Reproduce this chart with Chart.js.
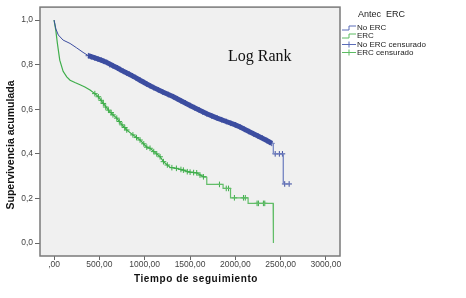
<!DOCTYPE html>
<html><head><meta charset="utf-8">
<script src="https://cdn.jsdelivr.net/npm/chart.js@4/dist/chart.umd.min.js"></script>
<style>html,body{margin:0;padding:0;background:#fff}#wrap{width:466px;height:298px;position:relative}</style>
</head><body><div id="wrap"><canvas id="c" width="466" height="298"></canvas></div>
<script>
// ---- data ----
const xTicks = [0, 500, 1000, 1500, 2000, 2500, 3000];
const yTicks = [0, 0.2, 0.4, 0.6, 0.8, 1.0];

// survival curve vertices (repeated times mark the visible vertical drops of the step function)
const noErcTime = [0, 20, 47, 100, 177, 250, 320, 379, 450, 520, 582, 650, 700, 765, 830, 900, 949, 1023, 1100, 1200, 1317, 1400, 1500, 1600, 1685, 1800, 1900, 2000, 2053, 2150, 2250, 2347, 2402, 2420, 2420, 2530, 2530, 2604];
const noErcSurv = [1.0, 0.96, 0.933, 0.91, 0.895, 0.875, 0.855, 0.84, 0.83, 0.82, 0.81, 0.795, 0.785, 0.77, 0.757, 0.742, 0.73, 0.713, 0.697, 0.677, 0.656, 0.638, 0.617, 0.597, 0.58, 0.56, 0.545, 0.53, 0.52, 0.50, 0.48, 0.46, 0.447, 0.447, 0.40, 0.40, 0.265, 0.265];

const ercTime = [0, 19, 37, 63, 100, 140, 177, 230, 287, 340, 397, 450, 489, 544, 600, 650, 692, 750, 802, 870, 949, 1023, 1059, 1133, 1170, 1207, 1250, 1280, 1350, 1427, 1501, 1574, 1648, 1685, 1685, 1865, 1865, 1947, 1947, 2141, 2141, 2417, 2417, 2422, 2422];
const ercSurv = [1.0, 0.955, 0.895, 0.82, 0.77, 0.745, 0.73, 0.72, 0.71, 0.70, 0.686, 0.67, 0.656, 0.626, 0.596, 0.575, 0.56, 0.53, 0.507, 0.485, 0.462, 0.43, 0.425, 0.40, 0.387, 0.365, 0.35, 0.34, 0.335, 0.327, 0.318, 0.315, 0.297, 0.297, 0.263, 0.263, 0.245, 0.245, 0.203, 0.203, 0.178, 0.178, 0.089, 0.089, 0.0];

const noErcCensTime = [379, 410, 450, 485, 520, 550, 582, 615, 650, 700, 730, 765, 800, 830, 865, 900, 949, 990, 1023, 1060, 1100, 1150, 1200, 1260, 1317, 1360, 1400, 1450, 1500, 1550, 1600, 1640, 1685, 1740, 1800, 1850, 1900, 1950, 2000, 2053, 2100, 2150, 2200, 2250, 2300, 2347, 2380, 2402, 2440, 2486, 2520, 2545, 2594];
const noErcCensSurv = [0.84, 0.835, 0.83, 0.825, 0.82, 0.815, 0.81, 0.80, 0.795, 0.785, 0.778, 0.77, 0.763, 0.757, 0.75, 0.742, 0.73, 0.721, 0.713, 0.705, 0.697, 0.687, 0.677, 0.666, 0.656, 0.647, 0.638, 0.628, 0.617, 0.607, 0.597, 0.588, 0.58, 0.57, 0.56, 0.553, 0.545, 0.537, 0.53, 0.52, 0.51, 0.50, 0.49, 0.48, 0.47, 0.46, 0.452, 0.447, 0.40, 0.40, 0.40, 0.265, 0.265];

const ercCensTime = [450, 489, 520, 544, 570, 600, 630, 650, 692, 720, 750, 780, 802, 870, 910, 949, 990, 1023, 1059, 1100, 1133, 1170, 1207, 1250, 1300, 1350, 1400, 1427, 1470, 1501, 1540, 1574, 1610, 1648, 1825, 1900, 1925, 1990, 2090, 2110, 2240, 2255, 2310, 2325];
const ercCensSurv = [0.67, 0.656, 0.64, 0.626, 0.61, 0.596, 0.585, 0.575, 0.56, 0.545, 0.53, 0.518, 0.507, 0.485, 0.473, 0.462, 0.445, 0.43, 0.425, 0.41, 0.40, 0.387, 0.365, 0.35, 0.338, 0.335, 0.33, 0.327, 0.32, 0.318, 0.316, 0.315, 0.305, 0.297, 0.263, 0.245, 0.245, 0.203, 0.203, 0.203, 0.178, 0.178, 0.178, 0.178];

const FONT = "'Liberation Sans', Arial, sans-serif";
const BLUE = '#3c4da0', BLUE_L = '#7d8bc6';
const GREEN = '#3fae4b', GREEN_L = '#62bd68';

const pts = (t, v) => t.map((x, i) => ({x: x, y: v[i]}));

const decor = {
  id: 'decor',
  beforeDraw(chart) {
    const {ctx, chartArea: a} = chart;
    ctx.save();
    ctx.fillStyle = '#f0f0f0';
    ctx.fillRect(a.left, a.top, a.right - a.left, a.bottom - a.top);
    ctx.restore();
  },
  afterDraw(chart) {
    const {ctx, chartArea: a} = chart;
    ctx.save();
    ctx.strokeStyle = '#7a7a7a';
    ctx.lineWidth = 1.5;
    ctx.strokeRect(a.left, a.top, a.right - a.left, a.bottom - a.top);
    // Log Rank
    ctx.fillStyle = '#111';
    ctx.font = "16px 'Liberation Serif', 'Times New Roman', serif";
    ctx.textBaseline = 'alphabetic';
    ctx.fillText('Log Rank', 228, 61);
    // axis titles
    ctx.font = 'bold 10.5px ' + FONT;
    ctx.fillStyle = '#111';
    ctx.textAlign = 'center';
    ctx.textBaseline = 'middle';
    ctx.save();
    ctx.translate(11, 145);
    ctx.rotate(-Math.PI / 2);
    ctx.fillText('Supervivencia acumulada', 0, 0);
    ctx.restore();
    ctx.font = 'bold 10px ' + FONT;
    if ('letterSpacing' in ctx) ctx.letterSpacing = '0.6px';
    ctx.fillText('Tiempo de seguimiento', 196, 279);
    if ('letterSpacing' in ctx) ctx.letterSpacing = '0px';
    // legend
    ctx.textAlign = 'left';
    ctx.font = '9px ' + FONT;
    ctx.fillStyle = '#222';
    ctx.fillText('Antec  ERC', 358, 15);
    ctx.font = '8px ' + FONT;
    const items = [
      {t: 'No ERC', c: '#5a6cb8', step: true, y: 28},
      {t: 'ERC', c: '#5cbc62', step: true, y: 36},
      {t: 'No ERC censurado', c: '#5a6cb8', step: false, y: 44.5},
      {t: 'ERC censurado', c: '#5cbc62', step: false, y: 52.5}
    ];
    items.forEach(it => {
      ctx.strokeStyle = it.c;
      ctx.lineWidth = 1;
      ctx.beginPath();
      if (it.step) {
        ctx.moveTo(342, it.y + 2); ctx.lineTo(349, it.y + 2);
        ctx.lineTo(349, it.y - 2); ctx.lineTo(356, it.y - 2);
      } else {
        ctx.moveTo(342, it.y); ctx.lineTo(356, it.y);
        ctx.moveTo(349, it.y - 3); ctx.lineTo(349, it.y + 3);
      }
      ctx.stroke();
      ctx.fillStyle = '#222';
      ctx.fillText(it.t, 357, it.y);
    });
    ctx.restore();
  }
};

new Chart(document.getElementById('c'), {
  type: 'scatter',
  data: {
    datasets: [
      {
        label: 'No ERC', data: pts(noErcTime, noErcSurv), showLine: true,
        borderColor: BLUE, borderWidth: 1, pointRadius: 0, tension: 0,
        segment: {
          borderWidth: c => (c.p0.parsed.x >= 370 && c.p1.parsed.x <= 2402) ? 5 : 1,
          borderColor: c => (c.p0.parsed.x >= 2402) ? BLUE_L : BLUE
        }
      },
      {
        label: 'ERC', data: pts(ercTime, ercSurv), showLine: true,
        borderColor: GREEN, borderWidth: 1.2, pointRadius: 0, tension: 0,
        segment: { borderColor: c => (c.p0.parsed.x >= 1685) ? GREEN_L : GREEN }
      },
      {
        label: 'No ERC censurado', data: pts(noErcCensTime, noErcCensSurv), showLine: false,
        pointStyle: 'cross', pointRadius: 2.8, borderColor: BLUE, borderWidth: 1
      },
      {
        label: 'ERC censurado', data: pts(ercCensTime, ercCensSurv), showLine: false,
        pointStyle: 'cross', pointRadius: 2.8, borderColor: GREEN, borderWidth: 1
      }
    ]
  },
  options: {
    responsive: false, animation: false, devicePixelRatio: 1,
    layout: { padding: { left: 0, top: 7, right: 126, bottom: 0 } },
    plugins: { legend: { display: false }, tooltip: { enabled: false }, title: { display: false } },
    scales: {
      x: {
        type: 'linear', min: -155, max: 3155,
        afterBuildTicks: s => { s.ticks = xTicks.map(v => ({value: v})); },
        afterFit: s => { s.height = 42; },
        grid: { drawOnChartArea: false, drawTicks: true, tickLength: 4, color: '#666' },
        border: { display: false },
        ticks: {
          padding: 0, maxRotation: 0, autoSkip: false, color: '#444',
          font: { family: FONT, size: 8.5 },
          callback: v => v === 0 ? ',00' : v.toFixed(2).replace('.', ',')
        }
      },
      y: {
        type: 'linear', min: -0.058, max: 1.058,
        afterBuildTicks: s => { s.ticks = yTicks.map(v => ({value: v})); },
        afterFit: s => { s.width = 40; },
        grid: { drawOnChartArea: false, drawTicks: true, tickLength: 5, color: '#666' },
        border: { display: false },
        ticks: {
          padding: 2, autoSkip: false, color: '#444',
          font: { family: FONT, size: 8.5 },
          callback: v => v.toFixed(1).replace('.', ',')
        }
      }
    }
  },
  plugins: [decor]
});
</script></body></html>
